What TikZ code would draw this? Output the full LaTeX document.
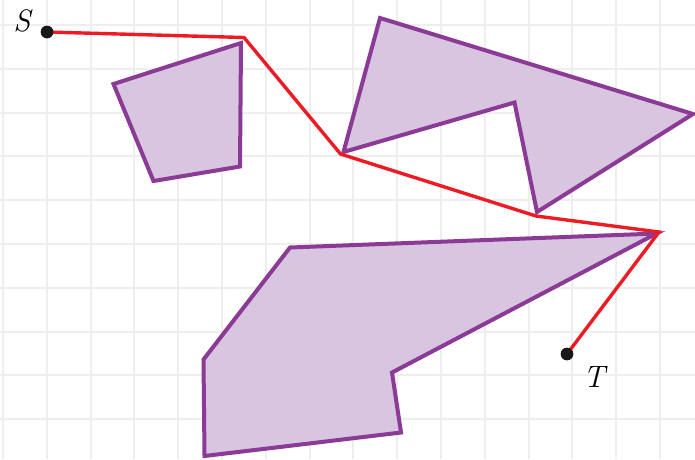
\documentclass[tikz,border=0pt]{standalone}
\usepackage{xcolor}
\definecolor{gridc}{HTML}{EEEEEE}
\definecolor{polyfill}{HTML}{D8C5E0}
\definecolor{polyline}{HTML}{8B3A96}
\definecolor{pathred}{HTML}{ED1C24}
\begin{document}
\begin{tikzpicture}[x=1pt,y=-1pt,
  poly/.style={draw=polyline,fill=polyfill,line width=4pt,line join=miter},
  route/.style={draw=pathred,line width=3.4pt,line join=miter},
  dotpt/.style={circle,fill=black!90,inner sep=0pt,minimum size=12.5pt},
  lbl/.style={font=\fontsize{31}{37}\selectfont\itshape,inner sep=0pt}]
\useasboundingbox (0,0) rectangle (695,459);
\fill[white] (0,0) rectangle (695,459);
% grid
\foreach \i in {0,...,15} {
  \draw[gridc,line width=2pt] ({3+43.8*\i},0) -- ({3+43.8*\i},459);
}
\foreach \j in {0,...,9} {
  \draw[gridc,line width=2pt] (0,{25+43.8*\j}) -- (695,{25+43.8*\j});
}
% polygons
\draw[poly] (113.5,84) -- (241,43) -- (240,166.5) -- (153.5,181) -- cycle;
\draw[poly] (380,18) -- (693,114) -- (537,212) -- (514.5,102.5) -- (343.5,152) -- cycle;
\draw[poly] (290,247.5) -- (656.5,233.5) -- (392,372.5) -- (401,432.5) -- (204.5,456) -- (203.5,359.5) -- cycle;
% points
\node[dotpt] (S) at (47,32) {};
\node[dotpt] (T) at (567,354) {};
\coordinate (p1) at (244,37.5);
\coordinate (p2) at (340.5,154);
\coordinate (p3) at (536,216);
\coordinate (p4) at (659,232);
\draw[route] (S.center) -- (p1) -- (p2) -- (p3) -- (p4) -- (T.center);
\node[dotpt] at (S.center) {};
\node[dotpt] at (T.center) {};
\node[lbl,anchor=base] (Slbl) at (22,31) {S};
\node[lbl,anchor=base] (Tlbl) at (594,387) {T};
\end{tikzpicture}
\end{document}
